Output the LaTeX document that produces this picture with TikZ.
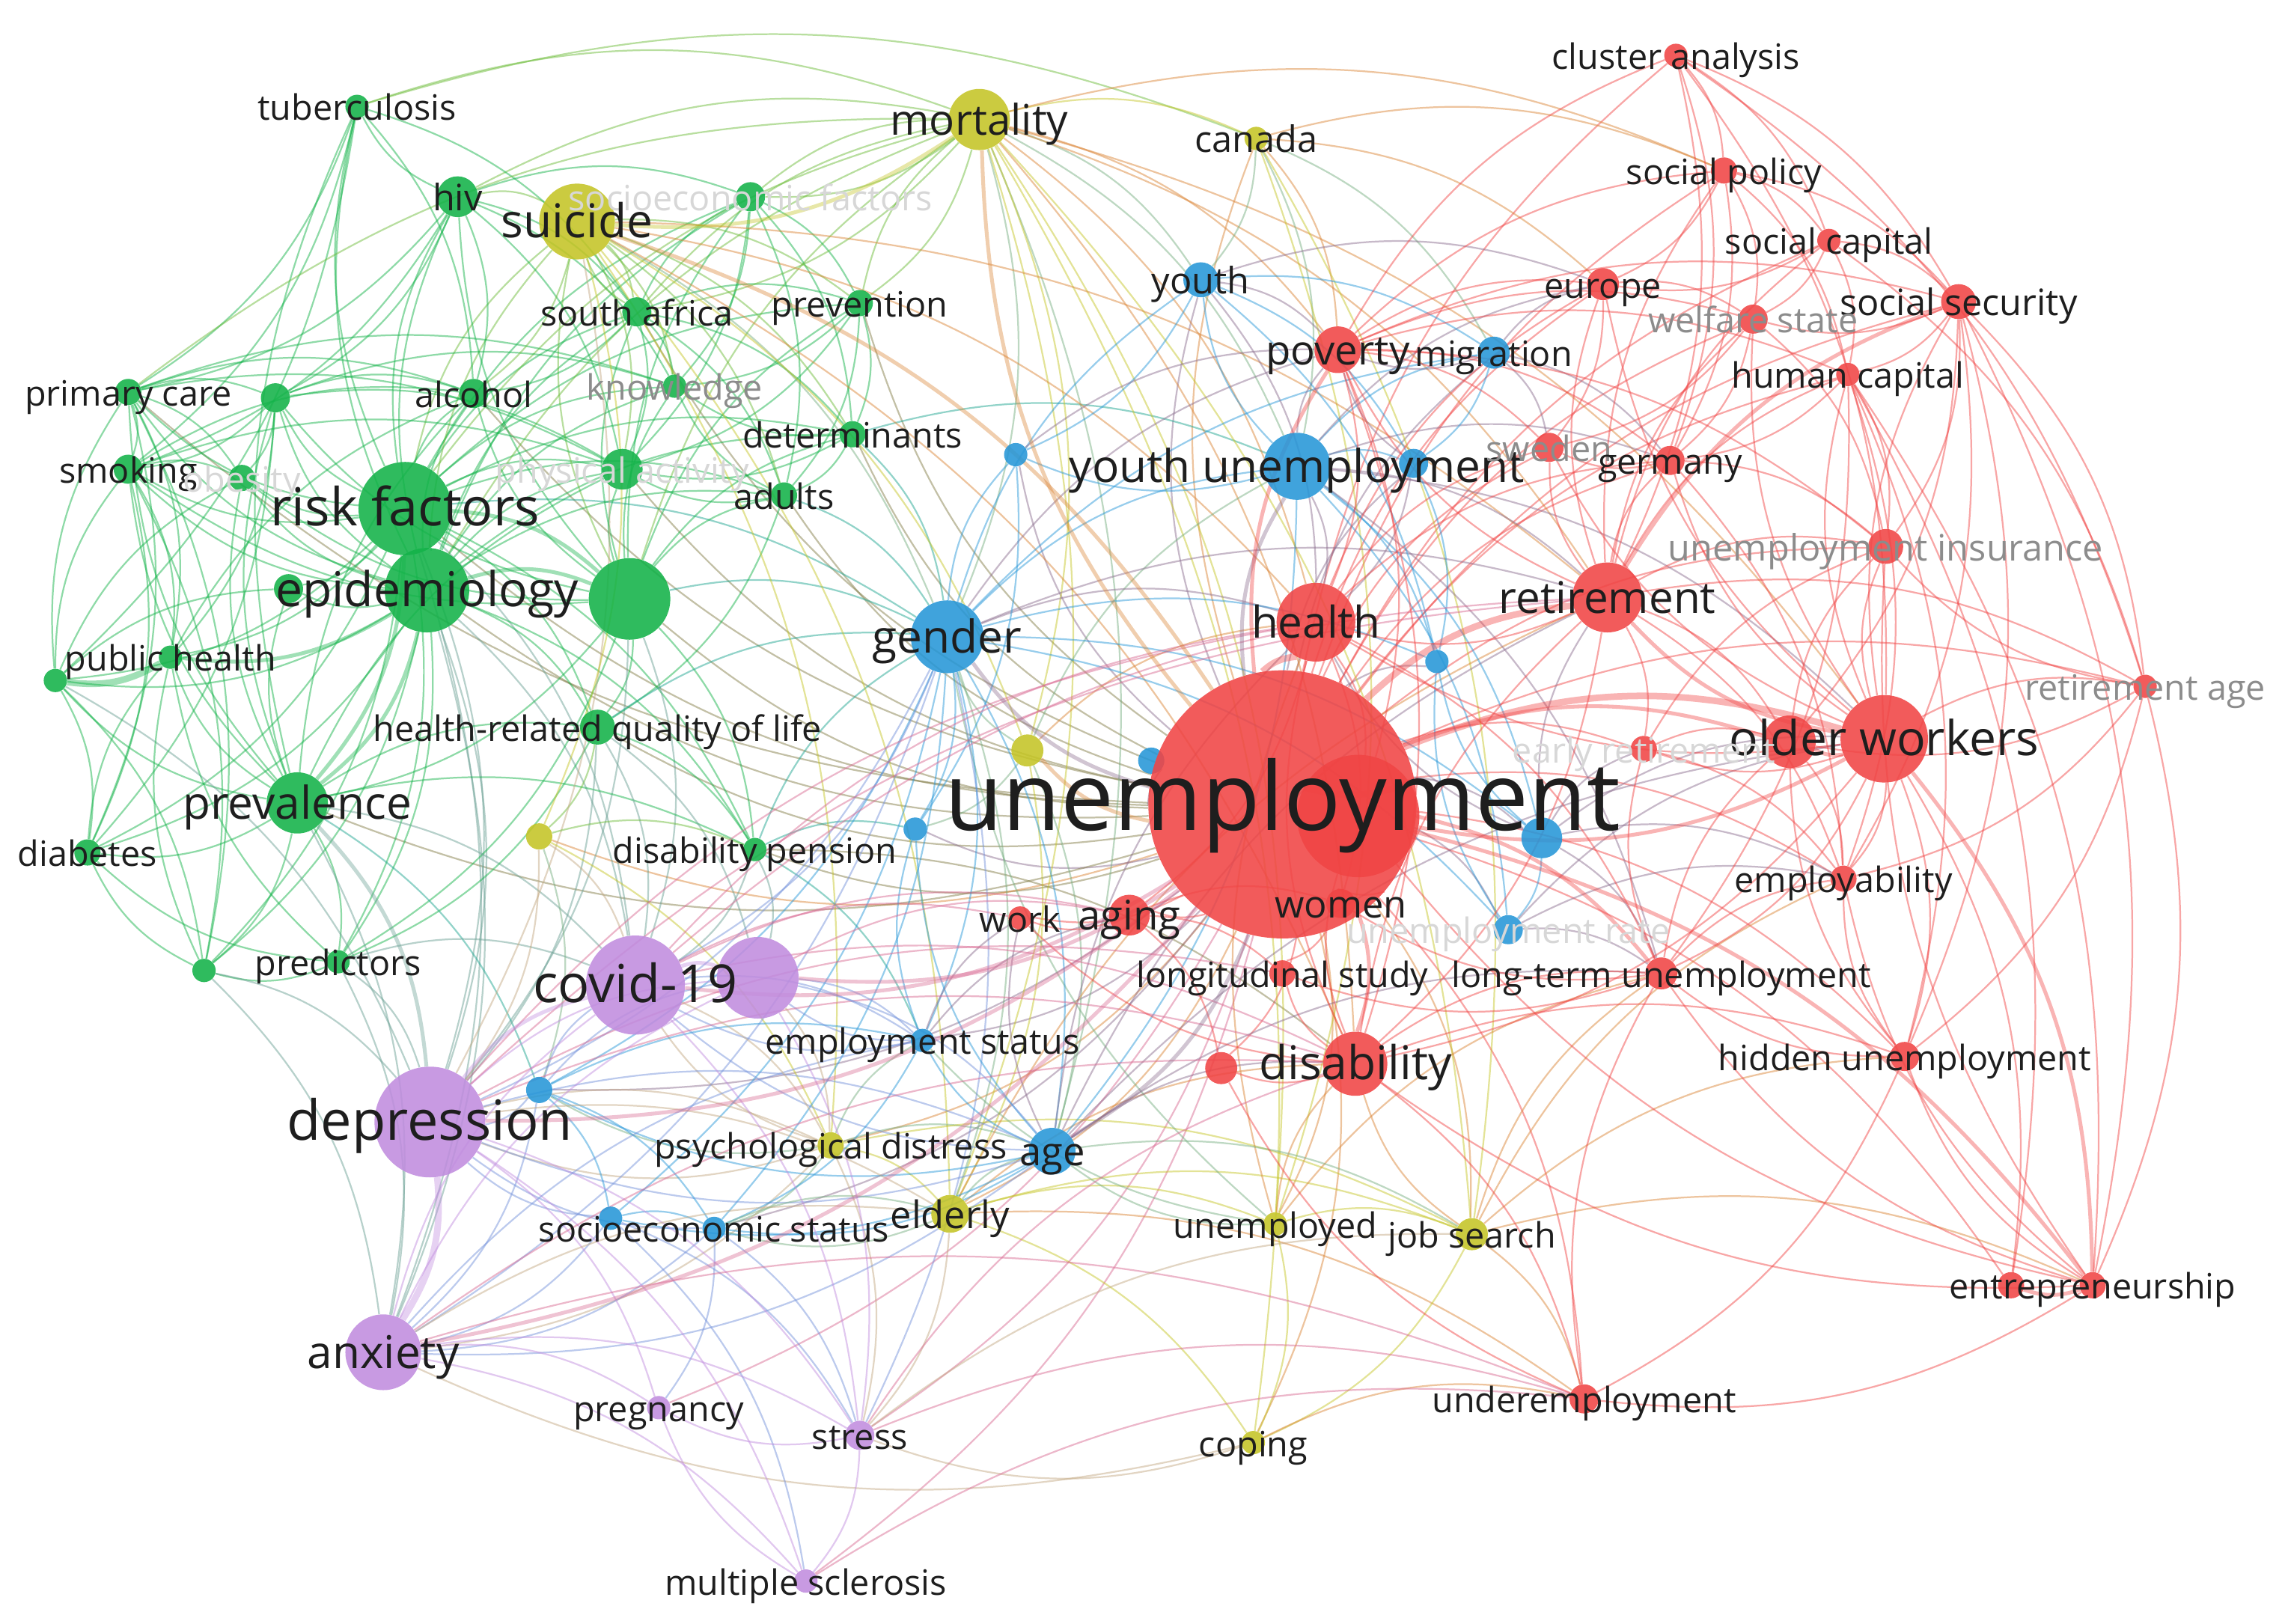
\documentclass[tikz,border=0pt]{standalone}
\usepackage{fontspec}
\setmainfont{Open Sans}
\pgfdeclarelayer{bg}\pgfdeclarelayer{fg}\pgfsetlayers{bg,main,fg}
\definecolor{cR}{RGB}{240,68,68}
\definecolor{cG}{RGB}{18,178,72}
\definecolor{cB}{RGB}{38,150,215}
\definecolor{cY}{RGB}{196,196,38}
\definecolor{cP}{RGB}{192,140,222}
\definecolor{tx}{RGB}{30,30,30}
\definecolor{gr}{RGB}{140,140,140}
\definecolor{fa}{RGB}{215,215,215}
\tikzset{
 kw/.style={circle, inner sep=0pt, draw=none},
 lab/.style={anchor=mid, inner sep=0pt},
 eThin/.style={line width=1.15pt, draw opacity=0.48},
 eMid/.style={line width=2.6pt, draw opacity=0.4},
 eThick/.style={line width=4.5pt, draw opacity=0.4},
}
\begin{document}
\begin{tikzpicture}[x=1pt,y=-1pt]
\useasboundingbox (0,0) rectangle (1568,1114);
\foreach \nn/\xx/\yy/\rr/\ncol/\lb/\fs/\lc in {
 tb/245/73/8/cG/tuberculosis/24/tx,
 hiv/314/135/14/cG/hiv/25/tx,
 sef/515/135/10/cG/socioeconomic factors/24/fa,
 saf/437/214/10/cG/south africa/24/tx,
 prev/590/208/9/cG/prevention/24/tx,
 pc/88/269/9/cG/primary care/24/tx,
 g1/189/273/10/cG//24/tx,
 alc/325/270/10/cG/alcohol/24/tx,
 know/463/265/8/cG/knowledge/24/gr,
 det/585/298/9/cG/determinants/24/tx,
 smk/88/322/10/cG/smoking/24/tx,
 obs/166/328/9/cG/obesity/24/fa,
 pa/427/322/14/cG/physical activity/24/fa,
 adu/538/340/9/cG/adults/24/tx,
 g2/198/404/10/cG//24/tx,
 gbig/432/411/28/cG//24/tx,
 rf/278/349/32/cG/risk factors/36/tx,
 epi/293/405/29/cG/epidemiology/33/tx,
 ph/117/451/8/cG/public health/24/tx,
 g3/38/467/8/cG//24/tx,
 hrq/410/499/12/cG/health-related quality of life/24/tx,
 preva/204/551/21/cG/prevalence/31/tx,
 dia/60/585/9/cG/diabetes/24/tx,
 dp/518/583/8/cG/disability pension/24/tx,
 pred/232/660/8/cG/predictors/24/tx,
 g4/140/666/8/cG//24/tx,
 mort/672/82/21/cY/mortality/29/tx,
 can/862/95/8/cY/canada/25/tx,
 sui/396/152/26/cY/suicide/32/tx,
 y1/705/515/11/cY//24/tx,
 y2/370/574/9/cY//24/tx,
 psy/570/786/9/cY/psychological distress/24/tx,
 eld/652/833/13/cY/elderly/26/tx,
 unemd/875/840/8/cY/unemployed/24/tx,
 js/1010/847/11/cY/job search/24/tx,
 cop/860/990/8/cY/coping/24/tx,
 yth/824/192/12/cB/youth/25/tx,
 mig/1025/242/11/cB/migration/24/tx,
 yu/890/320/23/cB/youth unemployment/31/tx,
 b1/697/312/8/cB//24/tx,
 b2/970/318/10/cB//24/tx,
 gen/650/437/25/cB/gender/31/tx,
 b3/986/454/8/cB//24/tx,
 b4/1058/575/14/cB//24/tx,
 b5/628/569/8/cB//24/tx,
 ur/1035/638/10/cB/unemployment rate/24/fa,
 b6/790/522/9/cB//24/tx,
 b7/370/748/9/cB//24/tx,
 es/633/714/8/cB/employment status/24/tx,
 age/722/790/16/cB/age/27/tx,
 b8/419/836/8/cB//24/tx,
 ses/490/843/8/cB/socioeconomic status/24/tx,
 cov/436/676/34/cP/covid-19/36/tx,
 p1/520/671/28/cP//24/tx,
 dep/295/770/38/cP/depression/38/tx,
 anx/263/928/26/cP/anxiety/31/tx,
 preg/452/966/8/cP/pregnancy/24/tx,
 str/590/985/10/cP/stress/24/tx,
 ms/553/1085/8/cP/multiple sclerosis/24/tx,
 ca/1150/38/8/cR/cluster analysis/24/tx,
 sp/1183/117/9/cR/social policy/24/tx,
 sc/1255/165/8/cR/social capital/24/tx,
 eu/1100/195/11/cR/europe/24/tx,
 ss/1344/207/12/cR/social security/25/tx,
 ws/1203/219/10/cR/welfare state/24/gr,
 pov/918/240/16/cR/poverty/28/tx,
 hc/1268/257/8/cR/human capital/24/tx,
 swe/1063/307/10/cR/sweden/24/gr,
 ger/1146/316/10/cR/germany/24/tx,
 ui/1294/375/12/cR/unemployment insurance/25/gr,
 hlth/903/427/27/cR/health/30/tx,
 ret/1103/410/24/cR/retirement/30/tx,
 ra/1472/471/8/cR/retirement age/24/gr,
 r1/1228/509/18/cR//24/tx,
 ow/1293/507/30/cR/older workers/33/tx,
 er/1128/514/9/cR/early retirement/24/fa,
 u/880/552/92/cR/unemployment/65/tx,
 r2/932/560/42/cR//24/tx,
 wom/920/620/10/cR/women/26/tx,
 wrk/700/630/8/cR/work/24/tx,
 agi/775/628/14/cR/aging/28/tx,
 emp/1265/603/9/cR/employability/24/tx,
 ls/880/668/9/cR/longitudinal study/24/tx,
 ltu/1140/668/11/cR/long-term unemployment/24/tx,
 dis/930/730/22/cR/disability/32/tx,
 r3/838/733/11/cR//24/tx,
 hu/1307/725/10/cR/hidden unemployment/24/tx,
 r4/1380/882/9/cR//24/tx,
 ent/1436/882/9/cR/entrepreneurship/24/tx,
 und/1087/960/10/cR/underemployment/24/tx}{
  \expandafter\xdef\csname nc@\nn\endcsname{\ncol}
  \pgfmathsetmacro\dd{2*\rr}
  \pgfmathsetmacro\ys{-(2+0.2*\fs)}
  \node[kw, fill=\ncol, fill opacity=0.88, minimum size=\dd pt] (\nn) at (\xx,\yy) {};
  \begin{pgfonlayer}{fg}
   \node[lab, yshift=\ys pt, text=\lc, font=\fontsize{\fs}{\fs}\selectfont] (\nn-l) at (\xx,\yy) {\lb};
  \end{pgfonlayer}
}
\begin{pgfonlayer}{bg}
\foreach \ea/\eb in {
u/eu, u/sp, u/ca, u/sc, u/ws, u/hc, u/ger, u/swe, u/ui, u/ra, u/emp, u/er, u/ls, u/wrk, u/wom, u/eld, u/js, u/unemd, u/cop, u/psy, u/str, u/preg, u/ms, u/es, u/ses, u/yth, u/mig, u/can, u/dp, u/hrq, u/gbig, u/pa, u/y2, u/b7, u/pc, u/alc, u/b3, u/b4, u/b5, u/ur, u/b6, u/hu, u/und, u/r4, u/r3, u/agi, u/b1, u/b2, u/rf, u/epi, u/preva, u/det, u/adu, u/saf, u/prev, u/ss,
rf/tb, rf/hiv, rf/sui, rf/saf, rf/prev, rf/pc, rf/g1, rf/alc, rf/know, rf/det, rf/smk, rf/obs, rf/pa, rf/adu, rf/g2, rf/ph, rf/g3, rf/hrq, rf/dia, rf/dp, rf/pred, rf/g4, rf/sef, rf/mort, rf/dep, rf/gen, rf/cov, rf/anx,
epi/tb, epi/hiv, epi/pc, epi/smk, epi/obs, epi/alc, epi/pa, epi/g3, epi/dia, epi/pred, epi/g4, epi/hrq, epi/dp, epi/saf, epi/sef, epi/mort, epi/sui, epi/dep, epi/cov, epi/anx, epi/g1, epi/know, epi/det, epi/adu, epi/g2,
gbig/hiv, gbig/saf, gbig/pa, gbig/adu, gbig/det, gbig/know, gbig/prev, gbig/hrq, gbig/dp, gbig/preva, gbig/pred, gbig/gen, gbig/dep, gbig/alc, gbig/sef, gbig/sui, gbig/mort, gbig/g1, gbig/smk, gbig/obs, gbig/cov,
preva/dia, preva/pred, preva/g4, preva/ph, preva/g3, preva/smk, preva/pc, preva/g1, preva/hrq, preva/anx, preva/cov, preva/pa, preva/alc, preva/obs, preva/dp, preva/g2, preva/b7, preva/tb,
hiv/tb, hiv/saf, hiv/sui, hiv/alc, hiv/sef, hiv/mort, hiv/pc, hiv/g1, hiv/smk, hiv/pa, hiv/know,
tb/mort, tb/saf, tb/pc, tb/smk, tb/alc, tb/g3, tb/can,
g3/smk, g3/pc, g3/dia, g3/g4, g3/g2, g3/obs, g3/dep,
pc/g1, pc/smk, pc/alc, pc/dia, pc/g4, pc/ph, pc/obs, pc/pa, pc/know, pc/mort,
g1/alc, g1/smk, g1/obs, g1/pa, g1/know, g1/ph, g1/dia,
smk/obs, smk/alc, smk/ph, smk/dia, smk/g4, smk/pa,
saf/sef, saf/prev, saf/alc, saf/know, saf/pa, saf/det, saf/adu, saf/sui, saf/mort,
sef/prev, sef/mort, sef/det, sef/know, sef/adu, sef/pa,
prev/det, prev/know, prev/adu, prev/mort, prev/pa,
det/adu, det/pa, det/know, det/gen, det/yu,
adu/pa, adu/know, adu/hrq, adu/gen,
hrq/dp, hrq/pred, hrq/dep, hrq/cov, hrq/gen, hrq/y2, hrq/p1,
dp/dis, dp/gen, dp/b5, dp/p1, dp/cov, dp/es,
pred/g4, pred/dep, pred/anx, pred/cov, pred/dia, pred/ph,
g4/dia, g4/dep, g4/anx, g4/ph, dia/ph, ph/alc,
mort/can, mort/sef, mort/saf, mort/prev, mort/yth, mort/gen, mort/hlth, mort/pov, mort/eld, mort/cop, mort/js, mort/dis, mort/age, mort/yu, mort/sp, mort/y1, mort/unemd, mort/ret, mort/ow,
can/yth, can/sp, can/pov, can/yu, can/mig, can/eu, can/js, can/unemd,
sui/saf, sui/pa, sui/alc, sui/know, sui/det, sui/adu, sui/dep, sui/gen, sui/psy, sui/y2, sui/y1, sui/eld, sui/prev, sui/hlth, sui/dis, sui/ret,
y1/gen, y1/yu, y1/hlth, y1/age, y1/eld, y1/b5,
y2/dep, y2/cov, y2/b7, y2/psy, y2/dp,
psy/age, psy/eld, psy/es, psy/b7, psy/ses, psy/dep, psy/anx, psy/cov, psy/js, psy/str,
eld/js, eld/unemd, eld/cop, eld/age, eld/ret, eld/dis, eld/ses, eld/str, eld/und,
unemd/js, unemd/cop, unemd/gen, unemd/dis, unemd/ltu, unemd/hlth, unemd/age, unemd/es,
js/cop, js/und, js/ltu, js/ent, js/emp, js/dis, js/hu,
cop/und, cop/str, cop/anx,
gen/yu, gen/yth, gen/age, gen/es, gen/b5, gen/b1, gen/b7, gen/ses, gen/dep, gen/cov, gen/hlth, gen/ret, gen/b4, gen/ur, gen/eld, gen/pov, gen/anx, gen/str, gen/b3, gen/b8, gen/mig,
yu/yth, yu/mig, yu/pov, yu/b2, yu/b3, yu/b4, yu/ur, yu/age, yu/hlth, yu/ret, yu/ger, yu/ltu, yu/b1, yu/eu, yu/ow,
yth/mig, yth/b1, yth/pov, yth/eu, yth/b2, yth/b3, yth/hlth,
age/es, age/b7, age/ses, age/b8, age/dep, age/cov, age/hlth, age/dis, age/ret, age/ow, age/js, age/anx, age/b5, age/ltu, age/wrk,
b4/ur, b4/ltu, b4/ret, b4/ow, b4/b3, b4/er, b4/hlth, b4/emp,
ur/ltu, ur/b3, ur/ow, ur/emp,
b7/dep, b7/cov, b7/anx, b7/b8, b7/es, b7/ses, b7/p1,
es/p1, es/cov, es/ses, es/wrk, es/agi, es/b5,
b8/ses, b8/dep, b8/anx, b8/ms, b8/str,
ses/dep, ses/anx, ses/str, ses/preg, ses/eld,
mig/pov, mig/eu, mig/ger, mig/swe, mig/b2,
b1/pov, b1/b5, b2/pov, b2/hlth, b2/b3,
dep/p1, dep/preg, dep/str, dep/ms, dep/psy, dep/eld, dep/age, dep/hlth, dep/dis, dep/ls, dep/ret,
anx/cov, anx/p1, anx/preg, anx/str, anx/ms, anx/es, anx/eld, anx/dis, anx/und,
cov/es, cov/psy, cov/str, cov/wrk, cov/agi, cov/dis, cov/hlth, cov/ret,
p1/es, p1/age, p1/agi, p1/psy, p1/str,
str/ms, str/preg, str/dis, str/js, str/und,
ms/preg, ms/und,
ow/ra, ow/er, ow/emp, ow/ltu, ow/hu, ow/r4, ow/ui, ow/ss, ow/ger, ow/hc, ow/eu, ow/ws, ow/swe, ow/hlth, ow/dis,
ret/ui, ret/ra, ret/er, ret/r1, ret/ws, ret/hc, ret/ger, ret/swe, ret/eu, ret/sp, ret/hlth, ret/dis, ret/emp, ret/pov, ret/sc,
pov/eu, pov/sp, pov/ws, pov/ss, pov/hc, pov/ger, pov/swe, pov/ui, pov/hlth, pov/dis, pov/ca, pov/r2,
ca/sp, ca/sc, ca/ger, ca/ret, ca/ss, ca/ra, ca/ow,
sp/sc, sp/eu, sp/ss, sp/ws, sp/hc, sp/ger,
sc/ss, sc/eu, sc/ws, sc/hc, sc/ra,
ss/ws, ss/hc, ss/ui, ss/r1, ss/ra, ss/ent, ss/hu, ss/emp,
hc/ui, hc/emp, hc/hu, hc/ent, hc/r4, hc/ltu, hc/ger,
ent/und, ent/ltu, ent/emp, ent/hu, ent/ui, ent/dis, ent/r2,
hu/ltu, hu/emp, hu/und, hu/r1,
ra/r1, ra/ui, ra/hu, ra/emp, ra/ent,
dis/r3, dis/hlth, dis/ret, dis/ltu, dis/ls, dis/wrk, dis/und, dis/hu, dis/r2,
hlth/agi, hlth/wom, hlth/ltu, hlth/ger, hlth/eu, hlth/r2, hlth/swe,
und/ltu, und/r3,
ltu/ls, ltu/emp, ltu/r1, ltu/er, ltu/wom,
er/r1, er/ui, er/emp, r1/emp, r1/ui,
agi/wrk, agi/ls, agi/r3, agi/wom,
ws/ui, ws/ger, ws/swe, ger/swe, ger/ui, ger/emp, eu/swe, eu/ws}{
  \edef\ca{\csname nc@\ea\endcsname}\edef\cb{\csname nc@\eb\endcsname}
  \colorlet{ec}{\ca!50!\cb}
  \draw[eThin, draw=ec] (\ea) to[bend left=19] (\eb);
}
\foreach \ea/\eb in {u/dis, u/r1, u/dep, u/yu, u/mort, u/gen, rf/gbig, rf/preva, epi/gbig, epi/preva, epi/ph, dep/cov, cov/p1, ow/ret, ow/r1, ow/r2, ent/r4, sui/u, u/ltu, u/ent, u/age, u/cov, mort/sui, preva/dep, ow/ent, ret/ss, u/pov, u/anx, u/p1, u/y1}{
  \edef\ca{\csname nc@\ea\endcsname}\edef\cb{\csname nc@\eb\endcsname}
  \colorlet{ec}{\ca!50!\cb}
  \draw[eMid, draw=ec] (\ea) to[bend left=19] (\eb);
}
\foreach \ea/\eb in {u/ow, u/ret, u/hlth, rf/epi, dep/anx, u/r2, ph/g3}{
  \edef\ca{\csname nc@\ea\endcsname}\edef\cb{\csname nc@\eb\endcsname}
  \colorlet{ec}{\ca!50!\cb}
  \draw[eThick, draw=ec] (\ea) to[bend left=19] (\eb);
}
\end{pgfonlayer}
\end{tikzpicture}
\end{document}
